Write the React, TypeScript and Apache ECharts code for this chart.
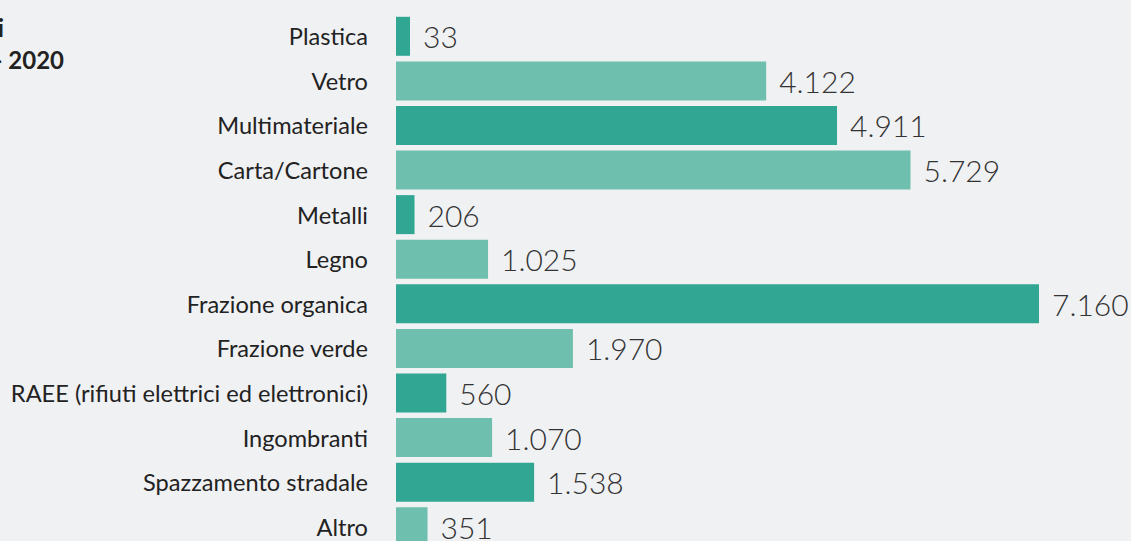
import React, { useEffect, useRef } from "react";
import * as echarts from "echarts";

const categories = [
  "Plastica",
  "Vetro",
  "Multimateriale",
  "Carta/Cartone",
  "Metalli",
  "Legno",
  "Frazione organica",
  "Frazione verde",
  "RAEE (rifiuti elettrici ed elettronici)",
  "Ingombranti",
  "Spazzamento stradale",
  "Altro",
];
const values = [33, 4122, 4911, 5729, 206, 1025, 7160, 1970, 560, 1070, 1538, 351];
const titleLines = [
  "Raccolta differenziata per frazione merceologica, valori assoluti",
  "Tonnellate - 2020",
];

const DARK = "#31a693";
const LIGHT = "#6ebfad";

function fmt(v: number): string {
  return String(v).replace(/\B(?=(\d{3})+(?!\d))/g, ".");
}

export default function App() {
  const ref = useRef<HTMLDivElement>(null);
  useEffect(() => {
    if (!ref.current) return;
    const chart = echarts.init(ref.current, undefined, { renderer: "svg" });
    chart.setOption({
      animation: false,
      backgroundColor: "#f0f1f3",
      graphic: [
        {
          type: "text",
          right: 1131 - 4,
          top: 15,
          style: {
            text: titleLines[0],
            font: "bold 24px Lato",
            fill: "#222",
            textAlign: "right",
          },
        },
        {
          type: "text",
          right: 1131 - 64,
          top: 47,
          style: {
            text: titleLines[1],
            font: "bold 24px Lato",
            fill: "#222",
            textAlign: "right",
          },
        },
      ],
      grid: { left: 396, top: 14, width: 643, height: 535, containLabel: false },
      xAxis: {
        type: "value",
        min: 0,
        max: 7160,
        show: false,
      },
      yAxis: {
        type: "category",
        data: categories,
        inverse: true,
        axisLine: { show: false },
        axisTick: { show: false },
        splitLine: { show: false },
        axisLabel: {
          margin: 28,
          fontFamily: "Lato",
          fontSize: 23.6,
          color: "#222",
        },
      },
      series: [
        {
          type: "bar",
          barWidth: 39,
          barMinHeight: 14,
          data: values.map((v, i) => ({
            value: v,
            itemStyle: { color: i % 2 === 0 ? DARK : LIGHT },
          })),
          label: {
            show: true,
            position: "right",
            distance: 13,
            fontFamily: "Lato",
            fontWeight: 300,
            fontSize: 30,
            color: "#333",
            formatter: (p: any) => fmt(p.value),
          },
        },
      ],
    });
    return () => chart.dispose();
  }, []);
  return (
    <div
      style={{
        position: "fixed",
        left: 0,
        top: 0,
        width: 1131,
        height: 541,
        overflow: "hidden",
        background: "#f0f1f3",
      }}
    >
      <div ref={ref} style={{ width: 1131, height: 570 }} />
    </div>
  );
}
